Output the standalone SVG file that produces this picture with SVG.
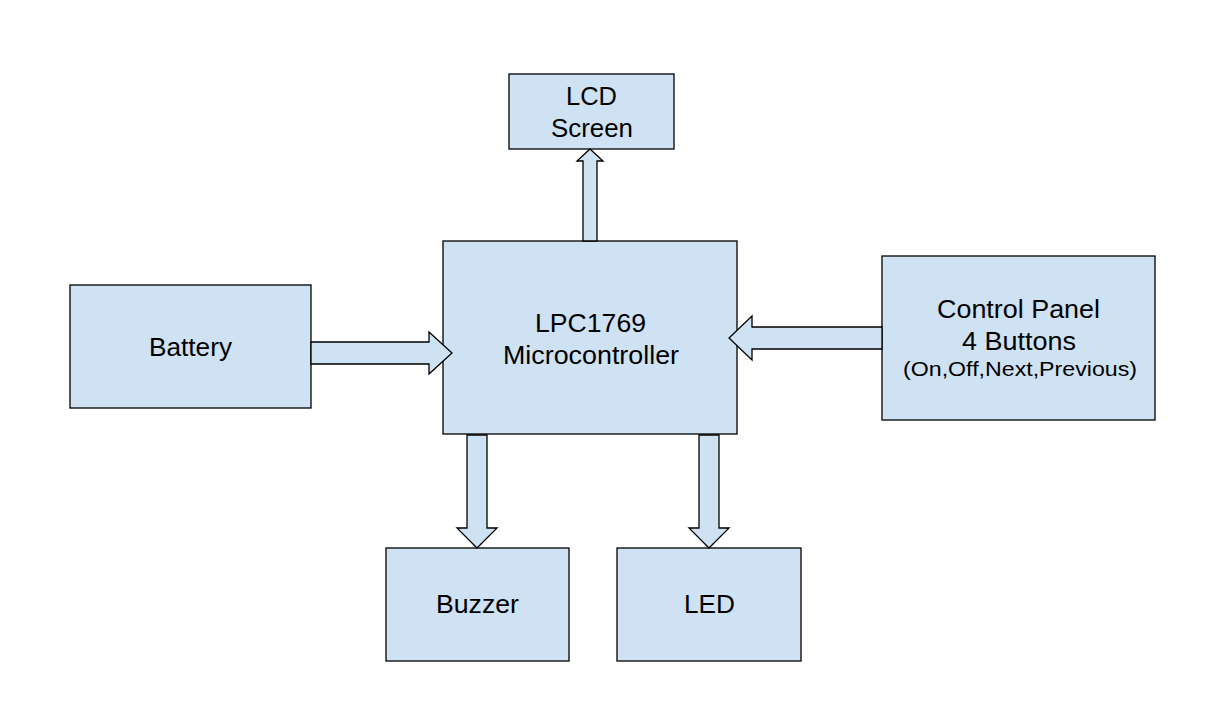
<svg xmlns="http://www.w3.org/2000/svg" width="1227" height="705" viewBox="0 0 1227 705">
  <style>
    .box { fill: #cfe2f3; stroke: #000; stroke-width: 1.3; }
    .arr { fill: #cfe2f3; stroke: #000; stroke-width: 1.3; stroke-linejoin: miter; }
    .t { font-family: "Liberation Sans", Arial, sans-serif; font-size: 25px; fill: #000; text-anchor: middle; }
    .s { font-family: "Liberation Sans", Arial, sans-serif; font-size: 21px; fill: #000; text-anchor: middle; }
  </style>
  <rect width="1227" height="705" fill="#fff"/>
  <g id="lcd">
    <rect class="box" x="509" y="74" width="165" height="75"/>
    <text class="t" x="591.5" y="105" textLength="51" lengthAdjust="spacingAndGlyphs">LCD</text>
    <text class="t" x="592" y="137" textLength="82" lengthAdjust="spacingAndGlyphs">Screen</text>
  </g>
  <g id="battery">
    <rect class="box" x="70" y="285" width="241" height="123"/>
    <text class="t" x="190.5" y="356" textLength="83" lengthAdjust="spacingAndGlyphs">Battery</text>
  </g>
  <g id="microcontroller">
    <rect class="box" x="443" y="241" width="294" height="193"/>
    <text class="t" x="590.5" y="332" textLength="111" lengthAdjust="spacingAndGlyphs">LPC1769</text>
    <text class="t" x="591" y="364" textLength="176" lengthAdjust="spacingAndGlyphs">Microcontroller</text>
  </g>
  <g id="control-panel">
    <rect class="box" x="882" y="256" width="273" height="164"/>
    <text class="t" x="1018.5" y="318" textLength="163" lengthAdjust="spacingAndGlyphs">Control Panel</text>
    <text class="t" x="1019" y="350" textLength="114" lengthAdjust="spacingAndGlyphs">4 Buttons</text>
    <text class="s" x="1020" y="376" textLength="234" lengthAdjust="spacingAndGlyphs">(On,Off,Next,Previous)</text>
  </g>
  <g id="buzzer">
    <rect class="box" x="386" y="548" width="183" height="113"/>
    <text class="t" x="477.5" y="613" textLength="83" lengthAdjust="spacingAndGlyphs">Buzzer</text>
  </g>
  <g id="led">
    <rect class="box" x="617" y="548" width="184" height="113"/>
    <text class="t" x="709.5" y="613" textLength="51" lengthAdjust="spacingAndGlyphs">LED</text>
  </g>
  <g id="connectors">
    <polygon class="arr" points="311,342 429,342 429,332 452,353 429,374 429,364 311,364"/>
    <polygon class="arr" points="882,327 752,327 752,316 729,338 752,360 752,349 882,349"/>
    <polygon class="arr" points="583,241 583,161 577,161 590,149 603,161 597,161 597,241"/>
    <polygon class="arr" points="467,435 467,528 457,528 477,548 497,528 487,528 487,435"/>
    <polygon class="arr" points="699,435 699,528 689,528 709,548 729,528 719,528 719,435"/>
  </g>
</svg>
